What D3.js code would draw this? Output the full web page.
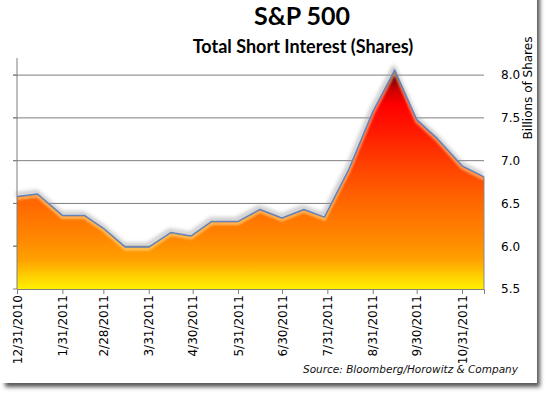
<!DOCTYPE html>
<html>
<head>
<meta charset="utf-8">
<script src="https://cdn.jsdelivr.net/npm/d3@7"></script>
<style>
  body { margin: 0; background: #fff; }
  svg { display: block; font-family: Lato, "Open Sans", sans-serif; }
</style>
</head>
<body>
<div id="container"></div>
<script>
// semi-monthly short interest settlement dates
let dates = ["2010-12-31","2011-01-14","2011-01-31","2011-02-15","2011-02-28","2011-03-15",
  "2011-03-31","2011-04-15","2011-04-29","2011-05-13","2011-05-31","2011-06-15",
  "2011-06-30","2011-07-15","2011-07-29","2011-08-15","2011-08-31","2011-09-15",
  "2011-09-30","2011-10-14","2011-10-31","2011-11-15"];
// billions of shares
let shortInterest = [6.58, 6.61, 6.36, 6.36, 6.21, 5.99, 5.99, 6.16, 6.12, 6.29, 6.29, 6.43,
  6.33, 6.43, 6.34, 6.91, 7.57, 8.06, 7.48, 7.26, 6.94, 6.81];
let tickDates = ["2010-12-31","2011-01-31","2011-02-28","2011-03-31","2011-04-30","2011-05-31",
  "2011-06-30","2011-07-31","2011-08-31","2011-09-30","2011-10-31"];
let yTicks = [5.5, 6.0, 6.5, 7.0, 7.5, 8.0];

let w = 550;
let h = 396;
let parse = d3.timeParse("%Y-%m-%d");
let data = dates.map((d, i) => ({date: parse(d), value: shortInterest[i]}));

let viz = d3.select("#container").append("svg")
    .attr("width", w).attr("height", h);

let defs = viz.append("defs");
let blur = defs.append("filter").attr("id", "blur").attr("x", "-10%").attr("y", "-10%").attr("width", "120%").attr("height", "120%");
blur.append("feGaussianBlur").attr("stdDeviation", 2);
let soft = defs.append("filter").attr("id", "soft");
soft.append("feGaussianBlur").attr("stdDeviation", 1.2);

// frame with drop shadow
viz.append("rect").attr("x", 5).attr("y", -6).attr("width", 535).attr("height", 393)
    .attr("fill", "#555").attr("filter", "url(#blur)");
viz.append("rect").attr("x", 0).attr("y", -10).attr("width", 537).attr("height", 393)
    .attr("fill", "#fff");

let xScale = d3.scaleTime()
    .domain([parse("2010-12-31"), parse("2011-11-15")])
    .range([17, 484]);
let yScale = d3.scaleLinear().domain([5.5, 8.2]).range([289, 58]);

// gradient follows the plot height
let grad = defs.append("linearGradient").attr("id", "fillGrad")
    .attr("gradientUnits", "userSpaceOnUse")
    .attr("x1", 0).attr("x2", 0).attr("y1", yScale(5.5)).attr("y2", yScale(8.06));
[[0, "#fff000"], [0.065, "#ffcc00"], [0.13, "#ffa200"], [0.22, "#ff8a00"], [0.41, "#ff6400"],
 [0.57, "#ff4000"], [0.73, "#ff1800"], [0.84, "#ff0000"], [0.91, "#cc0000"], [1, "#3c0404"]].forEach(s => {
  grad.append("stop").attr("offset", s[0]).attr("stop-color", s[1]);
});

// gridlines
let gridGroup = viz.append("g");
gridGroup.selectAll("line").data(yTicks.filter(d => d > 5.5)).enter().append("line")
    .attr("x1", 13).attr("x2", 484)
    .attr("y1", d => yScale(d)).attr("y2", d => yScale(d))
    .attr("stroke", "#7f7f7f").attr("stroke-width", 1);

let area = d3.area().x(d => xScale(d.date)).y0(yScale(5.5)).y1(d => yScale(d.value));
let line = d3.line().x(d => xScale(d.date)).y(d => yScale(d.value));

defs.append("clipPath").attr("id", "areaClip").append("path").datum(data).attr("d", area);

// soft shadow above the line
viz.append("path").datum(data).attr("d", line)
    .attr("fill", "none").attr("stroke", "#999").attr("stroke-width", 3)
    .attr("transform", "translate(-1,-2)").attr("filter", "url(#blur)").attr("opacity", 0.8);

viz.append("path").datum(data).attr("d", area).attr("fill", "url(#fillGrad)");

// light bevel just under the top edge
viz.append("g").attr("clip-path", "url(#areaClip)")
  .append("path").datum(data).attr("d", line)
    .attr("fill", "none").attr("stroke", "#ffe9a0").attr("stroke-width", 3)
    .attr("transform", "translate(0,2)").attr("filter", "url(#soft)").attr("opacity", 0.6);

viz.append("path").datum(data).attr("d", line)
    .attr("fill", "none").attr("stroke", "#6483b8").attr("stroke-width", 1.5)
    .attr("stroke-linejoin", "round");

// right edge of the area
viz.append("line").attr("x1", 484).attr("x2", 484)
    .attr("y1", yScale(shortInterest[shortInterest.length - 1])).attr("y2", 289)
    .attr("stroke", "#8a8a8a");

// left axis line
viz.append("line").attr("x1", 17).attr("x2", 17).attr("y1", 58).attr("y2", 289)
    .attr("stroke", "#7f7f7f");

// x axis
let xAxis = d3.axisBottom(xScale)
    .tickValues(tickDates.map(parse))
    .tickFormat(d3.timeFormat("%-m/%-d/%Y"))
    .tickSizeOuter(0).tickSize(5);
let xAxisGroup = viz.append("g").attr("transform", "translate(0,289)").call(xAxis);
xAxisGroup.select(".domain").attr("stroke", "#7f7f7f");
xAxisGroup.selectAll("line").attr("stroke", "#7f7f7f");
xAxisGroup.selectAll("text")
    .attr("font-size", 12).attr("font-family", "'DejaVu Sans', sans-serif").attr("fill", "#000")
    .attr("text-anchor", "end")
    .attr("transform", "rotate(-90)")
    .attr("x", -6).attr("y", 0).attr("dy", "0.35em");

// y axis on the right, labels only
let yAxis = d3.axisRight(yScale).tickValues(yTicks).tickFormat(d3.format(".1f")).tickSize(0);
let yAxisGroup = viz.append("g").attr("transform", "translate(495,0)").call(yAxis);
yAxisGroup.select(".domain").remove();
yAxisGroup.selectAll("text").attr("font-size", 12).attr("fill", "#000")
    .attr("font-family", "'DejaVu Sans', sans-serif").attr("x", 6);

// small ticks left of the left axis
viz.append("g").selectAll("line").data(yTicks).enter().append("line")
    .attr("x1", 13).attr("x2", 17)
    .attr("y1", d => yScale(d)).attr("y2", d => yScale(d))
    .attr("stroke", "#7f7f7f");

viz.append("text").text("Billions of Shares")
    .attr("transform", "translate(532,88) rotate(-90)")
    .attr("text-anchor", "middle").attr("font-size", 12)
    .attr("font-family", "'DejaVu Sans', sans-serif").attr("fill", "#000");

// titles
viz.append("text").text("S&P 500").attr("x", 302).attr("y", 25)
    .attr("text-anchor", "middle").attr("font-size", 25).attr("font-weight", "bold");
viz.append("text").text("Total Short Interest (Shares)").attr("x", 303).attr("y", 53)
    .attr("text-anchor", "middle").attr("font-size", 18).attr("font-weight", "bold");

viz.append("text").text("Source: Bloomberg/Horowitz & Company").attr("x", 518).attr("y", 373)
    .attr("text-anchor", "end").attr("font-size", 10.5).attr("font-style", "italic")
    .attr("font-family", "'DejaVu Sans', sans-serif").attr("fill", "#111");
</script>
</body>
</html>
